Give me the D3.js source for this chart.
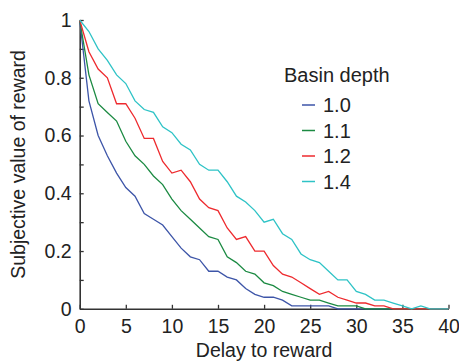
<!DOCTYPE html>
<html>
<head>
<meta charset="utf-8">
<script src="https://cdn.jsdelivr.net/npm/d3@7"></script>
<style>
  body { margin: 0; background: #fff; }
  svg { display: block; font-family: "Liberation Sans", Arial, sans-serif; }
  .axis path, .axis line { stroke: #333; }
  .axis text { fill: #222; font-size: 19.5px; }
</style>
</head>
<body>
<div id="chart"></div>
<script>
// delay values 0..40
let delays = d3.range(0, 41);
// basin depths (legend)
let depths = ['1.0', '1.1', '1.2', '1.4'];
let colors = ['#3d55a8', '#1b8a42', '#ee2a2e', '#2ec3c6'];

// subjective value for each depth
let depth10 = [1.0, 0.72, 0.60, 0.53, 0.47, 0.42, 0.39, 0.33, 0.31, 0.29, 0.25,
  0.21, 0.18, 0.17, 0.13, 0.13, 0.11, 0.10, 0.07, 0.05, 0.04,
  0.04, 0.03, 0.01, 0.01, 0.01, 0.01, 0.01, 0, 0, 0,
  0, 0, 0, 0, 0, 0, 0, 0, 0, 0];
let depth11 = [1.0, 0.81, 0.71, 0.68, 0.65, 0.58, 0.53, 0.50, 0.46, 0.43, 0.38,
  0.34, 0.31, 0.28, 0.25, 0.24, 0.18, 0.16, 0.13, 0.12, 0.09,
  0.08, 0.06, 0.05, 0.04, 0.03, 0.03, 0.02, 0.01, 0.01, 0.01,
  0, 0, 0, 0, 0, 0, 0, 0, 0, 0];
let depth12 = [1.0, 0.89, 0.83, 0.80, 0.71, 0.71, 0.66, 0.59, 0.59, 0.51, 0.47,
  0.48, 0.44, 0.38, 0.35, 0.34, 0.28, 0.24, 0.25, 0.20, 0.20,
  0.15, 0.12, 0.11, 0.09, 0.07, 0.05, 0.06, 0.04, 0.03, 0.02,
  0.02, 0.01, 0.01, 0, 0, 0, 0, 0, 0, 0];
let depth14 = [1.0, 0.96, 0.90, 0.86, 0.81, 0.78, 0.72, 0.69, 0.68, 0.63, 0.61,
  0.57, 0.55, 0.50, 0.48, 0.48, 0.44, 0.39, 0.37, 0.34, 0.30,
  0.31, 0.26, 0.24, 0.19, 0.17, 0.16, 0.13, 0.10, 0.10, 0.06,
  0.05, 0.03, 0.03, 0.02, 0.01, 0, 0.01, 0, 0, 0];
let series = [depth10, depth11, depth12, depth14];

let xTicks = [0, 5, 10, 15, 20, 25, 30, 35, 40];
let yTicks = [0, 0.1, 0.2, 0.3, 0.4, 0.5, 0.6, 0.7, 0.8, 0.9, 1];
let yLabels = { 0: '0', 0.2: '0.2', 0.4: '0.4', 0.6: '0.6', 0.8: '0.8', 1: '1' };

let width = 459,
  height = 364;

let svg = d3.select('#chart').append('svg')
  .attr('width', width)
  .attr('height', height);

let x = d3.scaleLinear().domain([0, 40]).range([79.7, 448.5]);
let y = d3.scaleLinear().domain([0, 1]).range([308.8, 20]);

// x axis, ticks point inward
svg.append('g')
  .attr('class', 'axis')
  .attr('transform', 'translate(0,' + y(0) + ')')
  .call(d3.axisBottom(x).tickValues(xTicks).tickSizeInner(-4).tickSizeOuter(0).tickPadding(10))
  .call(g => g.select('.domain').attr('stroke-width', 1.6))
  .call(g => g.selectAll('line').attr('stroke-width', 1.3));

// y axis
svg.append('g')
  .attr('class', 'axis')
  .attr('transform', 'translate(' + x(0) + ',0)')
  .call(d3.axisLeft(y).tickValues(yTicks).tickSizeInner(-4).tickSizeOuter(0).tickPadding(8)
    .tickFormat(d => yLabels[Math.round(d * 10) / 10] || ''))
  .call(g => g.select('.domain').attr('stroke-width', 1.6))
  .call(g => g.selectAll('line').attr('stroke-width', 1.3));

// lines
let line = d3.line()
  .x((d, i) => x(delays[i]))
  .y(d => y(d));

svg.append('g')
  .selectAll('path')
  .data(series)
  .enter()
  .append('path')
  .attr('d', line)
  .attr('fill', 'none')
  .attr('stroke', (d, i) => colors[i])
  .attr('stroke-width', 1.3);

// axis titles
svg.append('text')
  .attr('x', x(20))
  .attr('y', 357)
  .attr('text-anchor', 'middle')
  .attr('font-size', '19.5px')
  .attr('fill', '#222')
  .text('Delay to reward');

svg.append('text')
  .attr('transform', 'translate(25,' + y(0.5) + ') rotate(-90)')
  .attr('text-anchor', 'middle')
  .attr('font-size', '19.5px')
  .attr('fill', '#222')
  .text('Subjective value of reward');

// legend
let legend = svg.append('g');
legend.append('text')
  .attr('x', 284)
  .attr('y', 82)
  .attr('font-size', '20px')
  .attr('fill', '#222')
  .text('Basin depth');

let item = legend.selectAll('.item')
  .data(depths)
  .enter()
  .append('g')
  .attr('class', 'item')
  .attr('transform', (d, i) => 'translate(0,' + (105 + i * 25.5) + ')');

item.append('line')
  .attr('x1', 302)
  .attr('x2', 315)
  .attr('stroke', (d, i) => colors[i])
  .attr('stroke-width', 1.5);

item.append('text')
  .attr('x', 323)
  .attr('y', 7)
  .attr('font-size', '20px')
  .attr('fill', '#222')
  .text(d => d);
</script>
</body>
</html>
